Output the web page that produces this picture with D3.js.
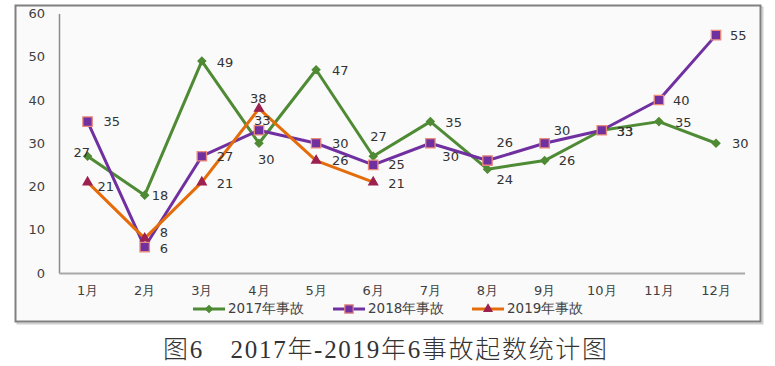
<!DOCTYPE html>
<html><head><meta charset="utf-8">
<script src="https://cdn.jsdelivr.net/npm/d3@7"></script>
<style>
html,body{margin:0;padding:0;background:#fff;}
svg{display:block;}
</style></head>
<body>
<svg id="chart" width="775" height="366"></svg>
<script>
// ---- data ----
const months = ["1月","2月","3月","4月","5月","6月","7月","8月","9月","10月","11月","12月"];
const seriesNames = ["2017年事故","2018年事故","2019年事故"];
const values2017 = [27,18,49,30,47,27,35,24,26,33,35,30];
const values2018 = [35,6,27,33,30,25,30,26,30,33,40,55];
const values2019 = [21,8,21,38,26,21];
const yTicks = [0,10,20,30,40,50,60];
const caption = "图6\u30002017年-2019年6事故起数统计图";

// ---- label placement (layout only) ----
const labelOffsets = [
  [[-14,-3],[7,1],[15,2],[-1,17],[16,2],[-3,-19],[15,2],[9,11],[14,1],[15,2],[16,2],[16,1]],
  [[16,1],[15,2],[15,1],[-5,-9],[16,1],[15,1],[12,14],[9,-17],[9,-12],[15,2],[14,1],[14,1]],
  [[10,5],[15,-5],[15,2],[-9,-9],[16,1],[15,2]]
];
const styles = [
  {line:"#4f8a34", fill:"#4f8a34", stroke:"#4f8a34", shape:d3.symbolSquare, size:30, rot:45},
  {line:"#7030a0", fill:"#7030a0", stroke:"#e98a7a", shape:d3.symbolSquare, size:88, rot:0},
  {line:"#e46c0a", fill:"#9c2050", stroke:"#9c2050", shape:d3.symbolTriangle, size:34, rot:0}
];
const allSeries = [values2017, values2018, values2019];

const svg = d3.select("#chart");

// frame
svg.append("rect").attr("x",17.5).attr("y",7.5).attr("width",745).attr("height",316)
  .attr("fill","none").attr("stroke","#d0d0d0").attr("stroke-width",2);
svg.append("rect").attr("x",15.5).attr("y",5.5).attr("width",745).attr("height",316)
  .attr("fill","#fafafa").attr("stroke","#808080").attr("stroke-width",2);

const x = d3.scaleBand().domain(months).range([59,744.6]).padding(0);
const y = d3.scaleLinear().domain([0,60]).range([273,13.5]);
const cx = m => x(m) + x.bandwidth()/2;

const font = "'DejaVu Sans', Verdana, sans-serif";

// y axis
const yAxis = svg.append("g").attr("transform","translate(59,0)")
  .call(d3.axisLeft(y).tickValues(yTicks).tickSize(0).tickPadding(14));
yAxis.select(".domain").attr("stroke","#8c8c8c").attr("stroke-width",1.5);
yAxis.selectAll("text").attr("font-family",font).attr("font-size",13).attr("fill","#404040");

// x axis
const xAxis = svg.append("g").attr("transform","translate(0,273)")
  .call(d3.axisBottom(x).tickSize(0).tickPadding(13));
xAxis.select(".domain").attr("stroke","#a8a8a8").attr("stroke-width",2);
xAxis.selectAll("text").attr("font-family",font).attr("font-size",13).attr("fill","#404040");

// lines
const line = d3.line().x((d,i)=>cx(months[i])).y(d=>y(d));
allSeries.forEach((vals,s)=>{
  svg.append("path").datum(vals).attr("d",line).attr("fill","none")
    .attr("stroke",styles[s].line).attr("stroke-width",3).attr("stroke-linejoin","round");
});
allSeries.forEach((vals,s)=>{
  const st = styles[s];
  svg.append("g").selectAll("path").data(vals).join("path")
    .attr("d", d3.symbol().type(st.shape).size(st.size))
    .attr("transform",(d,i)=>`translate(${cx(months[i])},${y(d)}) rotate(${st.rot})`)
    .attr("fill",st.fill).attr("stroke",st.stroke).attr("stroke-width",1.3);
});
// data labels
allSeries.forEach((vals,s)=>{
  svg.append("g").selectAll("text").data(vals).join("text")
    .attr("x",(d,i)=>cx(months[i])+labelOffsets[s][i][0])
    .attr("y",(d,i)=>y(d)+labelOffsets[s][i][1])
    .attr("dominant-baseline","middle")
    .attr("font-family",font).attr("font-size",13).attr("fill","#333")
    .text(d=>d);
});

// legend
const legendX = [193,333,472];
seriesNames.forEach((name,s)=>{
  const g = svg.append("g").attr("transform",`translate(${legendX[s]},309)`);
  const st = styles[s];
  g.append("line").attr("x1",0).attr("x2",32).attr("y1",0).attr("y2",0)
    .attr("stroke",st.line).attr("stroke-width",3);
  g.append("path").attr("d",d3.symbol().type(st.shape).size(st.size*0.8)())
    .attr("transform",`translate(16,0) rotate(${st.rot})`)
    .attr("fill",st.fill).attr("stroke",st.stroke).attr("stroke-width",1.2);
  g.append("text").attr("x",35).attr("y",0).attr("dominant-baseline","middle")
    .attr("font-family",font).attr("font-size",13.5).attr("fill","#404040").text(name);
});

// caption
svg.append("text").attr("x",163).attr("y",352).attr("dominant-baseline","middle")
  .attr("font-family","'Liberation Serif','Noto Sans CJK SC',serif").attr("font-size",25)
  .attr("font-weight",300).attr("letter-spacing",1.7)
  .attr("fill","#333").attr("xml:space","preserve").style("white-space","pre")
  .text(caption);
</script>
</body></html>
